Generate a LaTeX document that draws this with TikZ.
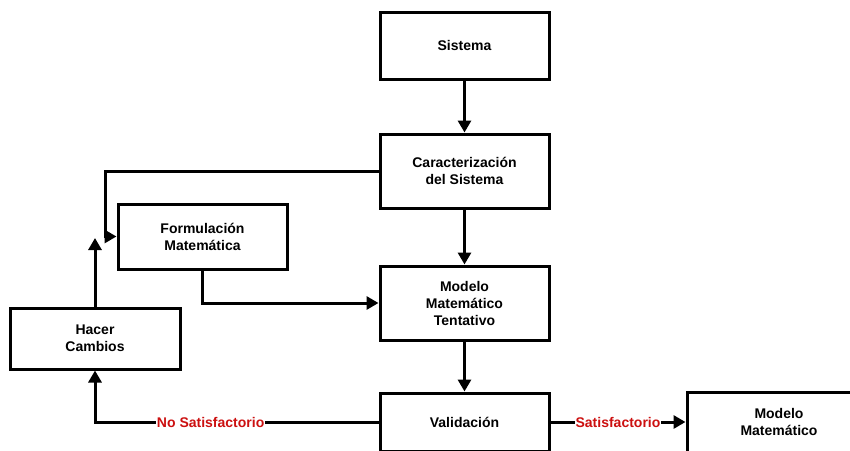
\documentclass[tikz,border=0pt]{standalone}
\usepackage{fontspec}
\setmainfont{Liberation Sans}
\usetikzlibrary{arrows.meta}
\definecolor{labelred}{RGB}{204,16,16}
\begin{document}
\begin{tikzpicture}[x=1pt,y=-1pt,
  box/.style={draw=black,line width=3pt,fill=white,align=center,
    font=\fontsize{14}{17}\selectfont\bfseries,inner sep=2pt},
  flow/.style={line width=3pt,-{Triangle[length=12pt,width=13pt]}},
  link/.style={line width=3pt},
  tag/.style={fill=white,text=labelred,inner sep=1pt,
    font=\fontsize{14}{17}\selectfont\bfseries}]
\useasboundingbox (0,0) rectangle (850,450);
\clip (0,0) rectangle (850,450);
\fill[white] (0,0) rectangle (850,450);

% blocks
\node[box,minimum width=169pt,minimum height=67pt] (sis) at (464.5,45.5) {Sistema};
\node[box,minimum width=169pt,minimum height=74pt] (car) at (464.5,171) {Caracterización\\del Sistema};
\node[box,minimum width=169pt,minimum height=65pt] (form) at (202.5,236.5) {Formulación\\Matemática};
\node[box,minimum width=169pt,minimum height=74pt] (tent) at (464.5,303) {Modelo\\Matemático\\Tentativo};
\node[box,minimum width=170pt,minimum height=61pt] (hc) at (95,338.5) {Hacer\\Cambios};
\node[box,minimum width=169pt,minimum height=58pt] (val) at (464.5,422) {Validación};
\node[box,minimum width=184pt,minimum height=60pt] (mm) at (779,422) {Modelo\\Matemático};

% auxiliary points
\coordinate (bend) at (105,236.5);
\coordinate (up) at (95,238);

% connectors
\draw[flow] (sis) -- (car);
\draw[flow] (car) -- (tent);
\draw[flow] (tent) -- (val);
\draw[flow] (car.west) -| (bend) -- (form.west);
\draw[flow] (form.south) |- (tent.west);
\draw[flow] (hc.north) -- (up);
\draw[flow] (val.west) -| node[tag,pos=0.296] {No Satisfactorio} (hc.south);
\draw[flow] (val.east) -- node[tag] {Satisfactorio} (mm.west);
\end{tikzpicture}
\end{document}
